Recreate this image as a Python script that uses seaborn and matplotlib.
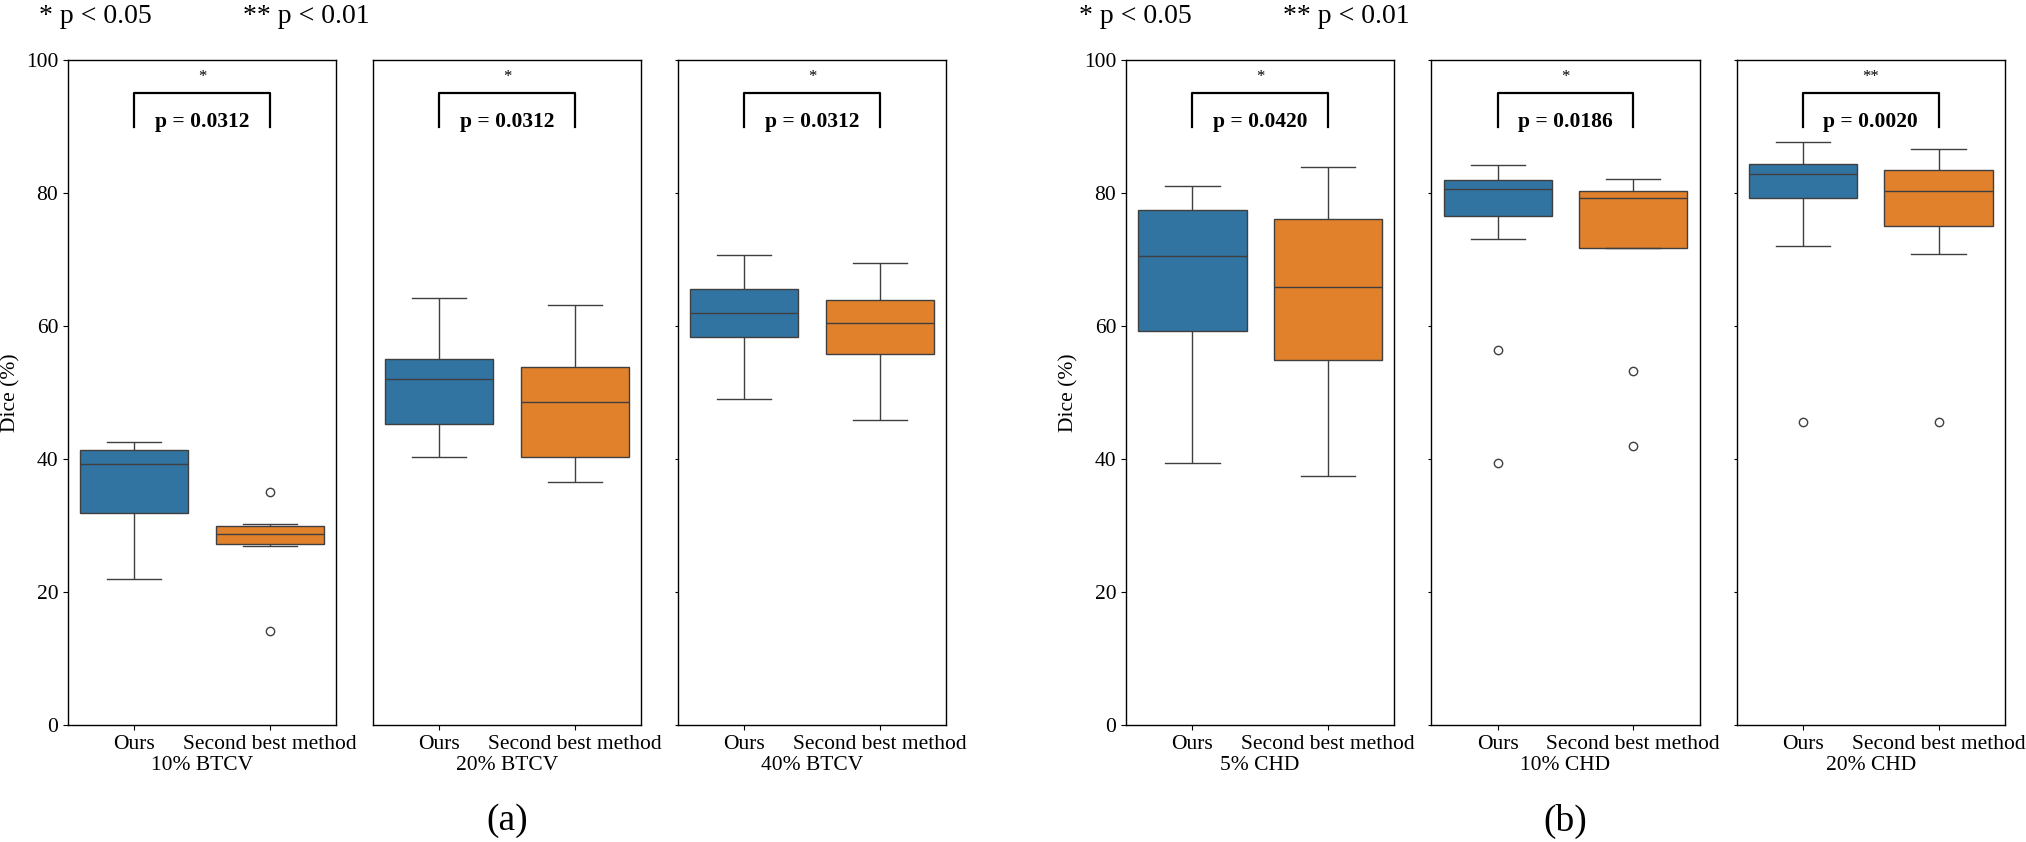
import numpy as np
import pandas as pd
import matplotlib.pyplot as plt
import seaborn as sns

plt.rcParams["font.family"] = ["Liberation Serif", "DejaVu Serif"]

methods = ["Ours", "Second best method"]

# (a) BTCV, dice per case
btcv_labels = ["10% BTCV", "20% BTCV", "40% BTCV"]
btcv10_ours = [22.0, 30.0, 37.6, 41.0, 41.5, 42.5]
btcv10_second = [14.1, 26.9, 28.1, 29.3, 30.2, 35.1]
btcv20_ours = [40.3, 43.8, 49.5, 54.5, 55.3, 64.2]
btcv20_second = [36.6, 38.4, 46.0, 51.2, 54.7, 63.2]
btcv40_ours = [49.0, 57.7, 60.5, 63.5, 66.2, 70.7]
btcv40_second = [45.8, 54.9, 58.6, 62.2, 64.5, 69.5]
btcv_p = ["0.0312", "0.0312", "0.0312"]
btcv_stars = ["*", "*", "*"]

# (b) CHD, dice per case
chd_labels = ["5% CHD", "10% CHD", "20% CHD"]
chd5_ours = [39.4, 48.0, 57.5, 64.3, 68.2, 73.0, 76.5, 77.7, 79.5, 81.0]
chd5_second = [37.5, 45.0, 53.0, 60.5, 63.8, 67.8, 74.0, 76.8, 80.2, 83.9]
chd10_ours = [39.4, 56.4, 73.1, 77.6, 78.5, 80.2, 81.0, 81.4, 81.7, 82.5, 83.3, 84.2]
chd10_second = [42.0, 53.3, 71.7, 71.8, 76.0, 78.8, 79.6, 79.9, 80.1, 80.9, 81.5, 82.1]
chd20_ours = [45.5, 72.0, 78.8, 80.4, 82.1, 83.7, 84.1, 84.5, 86.0, 87.6]
chd20_second = [45.5, 70.8, 74.2, 77.4, 79.6, 81.0, 82.8, 83.6, 85.0, 86.6]
chd_p = ["0.0420", "0.0186", "0.0020"]
chd_stars = ["*", "*", "**"]

W, H = 2026, 842
fig = plt.figure(figsize=(W / 100, H / 100), dpi=100)

gs_a = fig.add_gridspec(1, 3, left=68 / W, right=946 / W, bottom=117 / H, top=782 / H, wspace=0.138)
gs_b = fig.add_gridspec(1, 3, left=1126 / W, right=2005 / W, bottom=117 / H, top=782 / H, wspace=0.138)


def draw_panel(ax, ours, second, xlabel, pval, star, first, ytick_len):
    df = pd.DataFrame({
        "method": [methods[0]] * len(ours) + [methods[1]] * len(second),
        "dice": ours + second,
    })
    sns.boxplot(data=df, x="method", y="dice", hue="method", ax=ax, legend=False)
    ax.set_ylim(0, 100)
    ax.set_yticks([0, 20, 40, 60, 80, 100])
    ax.set_xlabel(xlabel, fontsize=15.5, labelpad=2)
    ax.tick_params(axis="both", labelsize=15.5)
    # significance bracket
    ax.plot([0, 0, 1, 1], [90, 95, 95, 90], color="black", lw=1.6)
    ax.text(0.5, 90, f"p = {pval}", ha="center", va="baseline", fontsize=15.5, fontweight="bold")
    ax.text(0.5, 96.8, star, ha="center", va="baseline", fontsize=12)
    for s in ax.spines.values():
        s.set_color("black")
        s.set_linewidth(1.0)
    if first:
        ax.set_ylabel("Dice (%)", fontsize=15.5)
    else:
        ax.set_ylabel("")
        ax.tick_params(axis="y", labelleft=False, length=ytick_len)


groups = [
    (gs_a, [btcv10_ours, btcv20_ours, btcv40_ours], [btcv10_second, btcv20_second, btcv40_second],
     btcv_labels, btcv_p, btcv_stars, [3.5, 0, 2]),
    (gs_b, [chd5_ours, chd10_ours, chd20_ours], [chd5_second, chd10_second, chd20_second],
     chd_labels, chd_p, chd_stars, [3.5, 2, 2]),
]

for gs, ours_list, second_list, labels, pvals, stars, tlens in groups:
    for i in range(3):
        ax = fig.add_subplot(gs[0, i])
        draw_panel(ax, ours_list[i], second_list[i], labels[i], pvals[i], stars[i], i == 0, tlens[i])

# legend of star meaning and panel tags
for x0 in [39, 1079]:
    fig.text(x0 / W, 1 - 23 / H, "* p < 0.05", fontsize=20, va="baseline")
    fig.text((x0 + 204) / W, 1 - 23 / H, "** p < 0.01", fontsize=20, va="baseline")

fig.text(507 / W, 0.025, "(a)", fontsize=27, ha="center", va="center")
fig.text(1565 / W, 0.025, "(b)", fontsize=27, ha="center", va="center")

fig.savefig("out.png", dpi=100)
